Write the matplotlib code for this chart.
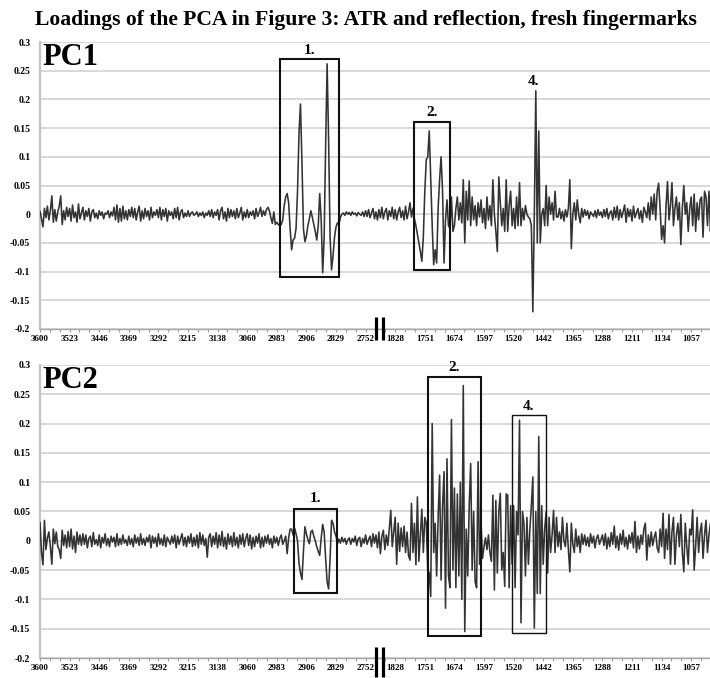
import numpy as np
import matplotlib
matplotlib.use("Agg")
import matplotlib.pyplot as plt
import matplotlib.transforms as mtransforms
from matplotlib.patches import Rectangle

# Wavenumber labels shown every 20 spectral points (cm-1), axis broken between 2752 and 1828
tick_labels = ["3600", "3523", "3446", "3369", "3292", "3215", "3138", "3060",
               "2983", "2906", "2829", "2752", "1828", "1751", "1674", "1597",
               "1520", "1442", "1365", "1288", "1211", "1134", "1057"]

y_tick_values = [-0.2, -0.15, -0.1, -0.05, 0, 0.05, 0.1, 0.15, 0.2, 0.25, 0.3]
y_tick_labels = ["-0.2", "-0.15", "-0.1", "-0.05", "0", "0.05", "0.1", "0.15", "0.2", "0.25", "0.3"]

# PC1 loadings (x 1000), one row per 10 spectral points
pc1_milli = [
    5, -8, -22, 10, -6, 14, -10, 6, 32, -14,
    8, -12, 4, 14, 32, -18, 6, -10, 12, -4,
    10, -12, 16, -6, 4, -14, 18, -8, 2, 12,
    -10, 6, -4, 10, -12, 4, 8, -6, 2, -8,
    6, -2, 4, -8, 2, 0, 6, -6, 4, -3,
    12, -10, 16, -14, 10, -12, 14, -8, 6, -10,
    8, -4, 12, -6, 10, -10, 4, 14, -12, 6,
    -8, 10, -4, 6, -10, 12, -6, 4, -2, 8,
    -6, 12, -10, 8, -4, 10, -12, 6, -2, 4,
    -8, 10, -6, 12, -10, 4, 8, -6, 2, -4,
    6, -4, 2, 4, -2, 0, 4, -4, 2, -2,
    4, -6, 2, -2, 6, -4, 8, -6, 4, -2,
    8, -10, 6, 12, -8, 4, -12, 10, -6, 8,
    -4, 6, -8, 10, -6, 2, 12, -10, 4, -6,
    8, -6, 4, -2, 6, -8, 10, -4, 2, 12,
    -4, 6, -2, 8, 12, 6, -6, -16, 4, -18,
    -14, -18, -20, -18, -10, 15, 30, 36, 20, -25,
    -62, -45, -42, -25, 40, 140, 192, 90, -25, -48,
    -38, -20, -8, 6, -5, -18, -30, -45, -20, 36,
    -10, -102, -40, 120, 262, 130, -40, -97, -72, -40,
    -22, -15, -18, -5, 0, 2, -2, 4, 0, 3,
    -2, 4, 0, 2, -3, 3, 0, -2, 4, -4,
    6, -4, 8, -6, 2, 10, -8, 4, -10, 8,
    -6, 12, -8, 4, 10, -10, 6, -4, 12, -8,
    8, -10, 4, 12, -6, 6, -10, 14, -8, 4,
    20, -5, 10, -8, -20, -35, -50, -65, -82, -40,
    40, 95, 100, 145, 60, -20, -88, -62, -85, 10,
    60, 100, 40, -85, -10, 25, -20, -25, 30, -30,
    -20, 10, 30, -10, 20, -15, 60, -50, 40, -10,
    58, -20, 30, -10, 15, -20, 20, -5, 25, -15,
    10, -25, 30, -10, 15, -20, 60, 0, -30, -65,
    65, 20, -20, 10, -30, 60, -30, 15, 40, -20,
    10, -25, 30, -20, 55, -20, 10, -10, 15, 0,
    -5, -8, -20, -170, 0, 215, -50, 145, -50, 0,
    10, -20, 50, -20, 30, 0, 20, -10, 40, -5,
    -5, 10, -8, 5, -12, 8, -5, 10, 60, -60,
    0, 20, -10, 25, 0, -15, 10, -5, 8, -2,
    6, -8, 4, 0, -4, 6, -6, 8, -2, 4,
    -6, 8, -4, 10, -8, 2, 6, -10, 12, -6,
    14, -10, 8, -6, 4, 16, -14, 10, -4, 8,
    -12, 14, -6, 2, 10, -8, 6, -14, 12, 4,
    -6, 20, -10, 30, 0, 35, -10, 40, 54, 10,
    -44, -20, -50, 15, 57, -10, 15, 55, -20, 10,
    30, -10, 20, -53, 10, 50, 0, 20, -30, 10,
    30, -20, 35, -30, 20, -10, 25, 30, -40, 40,
    30, -20, 40, -30, 10,
]

# PC2 loadings (x 1000), one row per 10 spectral points
pc2_milli = [
    31, -20, -41, 35, -15, 5, 15, -10, -40, 20,
    -5, 15, -10, -15, -30, 18, -8, 10, -12, 16,
    -10, 20, -14, 8, -20, 15, -6, 10, -8, 12,
    -6, 10, -12, 4, 8, -10, 14, -6, 2, -8,
    10, -12, 6, -4, 12, -8, 4, -10, 8, -2,
    6, -10, 12, -8, 4, -6, 10, -4, 2, -8,
    8, -6, 4, -10, 10, -4, 6, -8, 12, -6,
    4, -8, 6, -2, 10, -12, 8, -4, 6, -10,
    12, -6, 4, -8, 10, -10, 6, 0, -6, 8,
    -4, 10, -12, 8, -6, 4, 12, -8, 6, -10,
    8, -4, 12, -10, 6, -8, 10, -12, 14, -6,
    10, -8, 4, -28, 6, 12, -10, 8, -6, 14,
    -12, 10, -8, 16, -10, 6, -14, 12, -6, 8,
    -10, 14, -8, 6, -12, 10, -6, 12, -10, 4,
    12, -8, 10, -14, 6, -10, 8, -4, 12, -12,
    6, -10, 8, -4, 10, -6, 4, -12, 8, -4,
    6, -8, 4, 10, -6, 0, 8, -22, 5, 20,
    20, 10, 22, 12, 0, -38, -55, -66, -18, 24,
    12, 2, -5, 15, 18, 8, 0, -10, -18, -25,
    5, 28, 15, -30, -70, -82, -30, 35, 30, 15,
    8, -5, 3, -4, 6, -2, 4, -6, 2, 5,
    -6, 4, -2, 8, -8, 3, 6, -10, 4, -4,
    10, -6, 2, 8, -10, 12, -4, 10, -12, 15,
    -22, 8, 18, -15, 10, -8, 20, 52, -10, 15,
    40, -40, 30, -18, 22, -10, 25, -20, 15, -25,
    -33, 64, -20, 30, -41, 75, -35, 10, 54, -20,
    40, 30, -50, -55, -95, 200, -20, 30, -60, 40,
    112, -67, 60, 118, -115, 140, -60, -80, 207, -50,
    90, -80, 80, -60, 100, -100, 265, -155, 20, -60,
    60, 132, -50, 50, -70, -80, 135, -40, 30, -30,
    -10, 5, -15, 10, -20, -35, 78, -84, 69, -55,
    50, 81, -50, -20, -78, 80, 78, -80, 60, -40,
    60, -80, 50, 10, 206, -140, 50, 30, -60, 40,
    -40, 20, 60, 109, -149, 50, -90, 178, -90, 60,
    -40, 20, 50, -55, 40, -20, 10, 52, -20, 40,
    -10, 15, -15, 40, 0, -10, 30, -15, -53, 30,
    -5, -20, 20, -10, 8, -20, 12, -6, 10, -8,
    6, -10, 12, -4, 8, -12, 4, 10, -6, 2,
    10, -8, 12, -14, 6, -10, 14, -6, 25, -12,
    8, -16, 12, -6, 18, -10, 6, -14, 10, -4,
    14, -12, 33, -20, 8, -14, 10, -6, 20, 30,
    -33, 10, -10, 15, -8, 6, 15, -12, -20, 20,
    -10, 47, -30, 20, -15, 45, -40, 15, 40, -40,
    10, 30, -10, 45, -20, -53, 30, -10, -40, 20,
    10, 53, -50, -10, 40, -20, 15, 30, -30, 10,
    35, -20, 10, 30, -15,
]

pc1 = np.array(pc1_milli) / 1000.0
pc2 = np.array(pc2_milli) / 1000.0
idx = np.arange(len(pc1))

SERIF = ["Liberation Serif", "DejaVu Serif"]
LINE = "#333333"
GRID = "#d6d6d6"

W, H = 710, 678
fig = plt.figure(figsize=(W / 100, H / 100), dpi=100)
fig.patch.set_facecolor("white")

ax1 = fig.add_axes([40 / W, 1 - 329 / H, 670 / W, 287 / H])
ax2 = fig.add_axes([40 / W, 1 - 658 / H, 670 / W, 293 / H])


def style_axes(ax):
    ax.set_xlim(0, 452.7)
    ax.set_ylim(-0.2, 0.3)
    ax.set_yticks(y_tick_values)
    ax.set_yticklabels(y_tick_labels, fontfamily=SERIF, fontweight="bold", fontsize=7)
    major = np.arange(len(tick_labels)) * 20
    ax.set_xticks(major)
    ax.set_xticklabels(tick_labels, fontfamily=SERIF, fontweight="bold", fontsize=6.5)
    ax.set_xticks(np.arange(0, 453, 20 / 3), minor=True)
    ax.grid(axis="y", color=GRID, linewidth=1.3, zorder=0)
    ax.set_axisbelow(True)
    for s in ("top", "right"):
        ax.spines[s].set_visible(False)
    ax.spines["left"].set_color("#c4c4c4")
    ax.spines["left"].set_linewidth(1.6)
    ax.spines["bottom"].set_color("#a8a8a8")
    ax.spines["bottom"].set_linewidth(1.0)
    ax.tick_params(axis="y", length=0, pad=7)
    ax.tick_params(axis="x", which="both", direction="out", length=2.5,
                   color="#9a9a9a", width=0.8, pad=2)


def draw_break(ax, y_lo, y_hi):
    trans = mtransforms.blended_transform_factory(ax.transData, ax.transAxes)
    for xb in (227.0, 231.8):
        ax.plot([xb, xb], [y_lo, y_hi], transform=trans, color="black",
                linewidth=2.3, clip_on=False, solid_capstyle="butt", zorder=6)


def draw_box(ax, x0, x1, y0, y1, label, label_y, lw=1.5, label_x=None):
    ax.add_patch(Rectangle((x0, y0), x1 - x0, y1 - y0, fill=False,
                           edgecolor="#111111", linewidth=lw, zorder=5))
    lx = (x0 + x1) / 2 if label_x is None else label_x
    ax.text(lx, label_y, label, ha="center", va="center", fontsize=11,
            fontweight="bold", fontfamily=SERIF, zorder=6)


for ax, vals, name in ((ax1, pc1, "PC1"), (ax2, pc2, "PC2")):
    style_axes(ax)
    ax.plot(idx, vals, color=LINE, linewidth=1.15, zorder=3)
    ax.text(0.003, 0.997, name, transform=ax.transAxes, ha="left", va="top",
            fontsize=22, fontweight="bold", fontfamily=SERIF, zorder=6)

# Highlighted band regions, PC1
draw_box(ax1, 162.2, 201.8, -0.11, 0.27, "1.", 0.285)
draw_box(ax1, 252.5, 277.0, -0.0965, 0.161, "2.", 0.177)
ax1.text(333.5, 0.232, "4.", ha="center", va="center", fontsize=11,
         fontweight="bold", fontfamily=SERIF, zorder=6)

# Highlighted band regions, PC2
draw_box(ax2, 171.6, 200.9, -0.0896, 0.054, "1.", 0.073)
draw_box(ax2, 262.0, 298.0, -0.162, 0.279, "2.", 0.295)
draw_box(ax2, 318.7, 341.9, -0.158, 0.215, "4.", 0.229, lw=1.0)

draw_break(ax1, -0.038, 0.042)
draw_break(ax2, -0.065, 0.038)

fig.text(366 / W, 1 - 20 / H,
         "Loadings of the PCA in Figure 3: ATR and reflection, fresh fingermarks",
         ha="center", va="center", fontsize=15.6, fontweight="bold", fontfamily=SERIF)

fig.savefig("out.png", dpi=100, facecolor="white")
